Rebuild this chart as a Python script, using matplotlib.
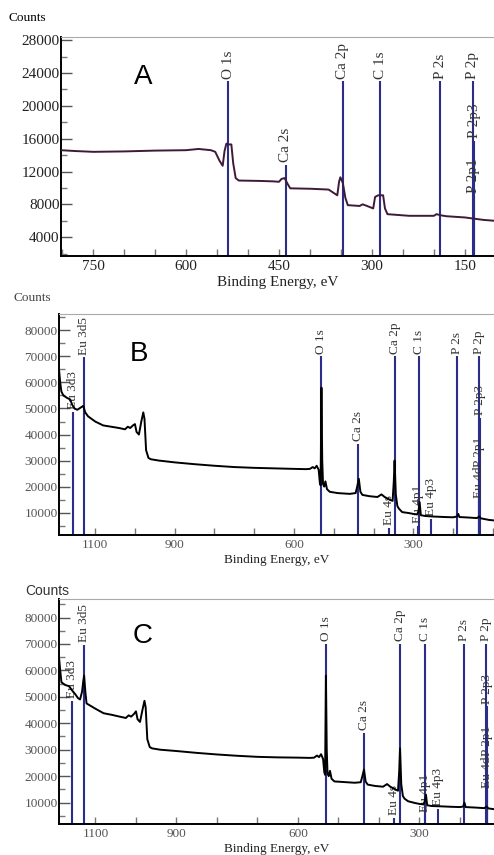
#XPS survey spectra, three samples
import numpy as np
import matplotlib
matplotlib.use("Agg")
import matplotlib.pyplot as plt
from matplotlib.ticker import MultipleLocator

# panel A spectrum (binding energy eV, counts)
ev_a = [802, 780, 750, 700, 650, 600, 580, 560, 553, 546, 541, 538, 535, 530, 527,
        524, 520, 515, 480, 460, 450, 446, 441, 437, 432, 400, 370, 360, 356,
        353, 351, 347, 343, 339, 320, 315, 308, 298, 295, 290, 282, 279, 275,
        240, 200, 196, 188, 180, 150, 135, 120, 103]
counts_a = [14600, 14500, 14400, 14450, 14550, 14600, 14750, 14600, 14400, 13300, 12700,
            14500, 15400, 15300, 15300, 13000, 11200, 10900, 10850, 10800, 10750, 11100,
            11200, 10600, 9950, 9900, 9800, 9300, 9100, 10800, 11300, 10600, 8800,
            7900, 7800, 8000, 7800, 7500, 8900, 9100, 9100, 7500, 6800, 6600, 6600,
            6800, 6650, 6550, 6400, 6250, 6100, 6000]

# panel B spectrum
ev_b = [1191, 1188, 1185, 1180, 1170, 1163, 1158, 1152, 1145, 1135, 1130, 1125, 1118,
        1100, 1080, 1060, 1040, 1025, 1018, 1012, 1005, 1000, 996, 990, 984, 979,
        976, 972, 966, 960, 940, 900, 850, 800, 750, 700, 650, 600, 570, 560,
        553, 548, 543, 538, 535, 533, 531, 529, 527, 524, 521, 517, 510, 490,
        460, 445, 441, 437, 433, 428, 410, 390, 380, 372, 360, 352, 349, 347,
        344, 340, 336, 328, 310, 300, 290, 287, 284, 281, 270, 250, 220, 200,
        190, 187, 184, 160, 140, 134, 130, 110, 97]
counts_b = [65000, 60000, 56500, 55000, 54000, 53500, 51500, 50000, 49500, 50500, 51000,
            48500, 47000, 45000, 43500, 43000, 42500, 42000, 43000, 42500, 43500, 44000,
            41000, 40000, 45000, 48500, 46000, 34000, 31000, 30500, 30000, 29300, 28600,
            28000, 27500, 27200, 27000, 26800, 26700, 26800, 27500, 27000, 28000, 26500,
            21500, 20500, 58000, 30000, 21000, 20000, 22000, 19000, 18000, 17500, 17200,
            17500, 20000, 23000, 18000, 16800, 16300, 16000, 17000, 16000, 15000, 14500,
            22000, 30000, 17000, 12500, 11500, 10200, 9800, 9500, 9300, 10500, 14000,
            9000, 8700, 8500, 8300, 8200, 8500, 9500, 8300, 8100, 7900, 8500, 7800,
            7200, 7000]

# panel C spectrum
ev_c = [1190, 1187, 1184, 1175, 1165, 1158, 1150, 1143, 1138, 1133, 1130, 1128, 1125,
        1122, 1100, 1080, 1060, 1040, 1025, 1018, 1012, 1005, 1000, 996, 990, 984,
        979, 976, 972, 966, 960, 940, 900, 850, 800, 750, 700, 650, 600, 570,
        560, 553, 548, 543, 538, 535, 533, 531, 529, 527, 524, 521, 517, 510,
        490, 460, 445, 441, 437, 433, 428, 410, 390, 380, 372, 360, 353, 350,
        348, 345, 341, 337, 328, 310, 300, 290, 287, 284, 281, 270, 250, 220,
        200, 192, 189, 186, 160, 140, 134, 130, 116]
counts_c = [65000, 60000, 55500, 54500, 54000, 52500, 51000, 49500, 49000, 52000, 56000,
            58000, 52000, 47500, 45500, 43800, 43200, 42500, 42000, 43000, 42500, 43500,
            44500, 41500, 40500, 45000, 48500, 46000, 34000, 31000, 30500, 30000, 29500,
            28800, 28200, 27700, 27300, 27100, 27000, 26900, 27000, 27800, 27200, 28300,
            26500, 21500, 20500, 58000, 30000, 21000, 20000, 22000, 19000, 18000, 17800,
            17500, 17700, 20000, 22500, 18000, 16800, 16300, 16000, 17000, 16000, 15000,
            14500, 22000, 30500, 17000, 12500, 11500, 10500, 9800, 9500, 9300, 10500,
            13000, 9000, 8700, 8600, 8400, 8300, 8500, 10000, 8300, 8100, 7900, 8500,
            7800, 7500]

# peak markers
names_a = ["O 1s", "Ca 2s", "Ca 2p", "C 1s", "P 2s", "P 2p", "P 2p3", "P 2p1"]
pos_a = [532, 439, 347, 287, 190, 137, 135, 136]
top_a = [23000, 12800, 23000, 23000, 23000, 23000, 15700, 9000]

names_bc = ["Eu 3d3", "Eu 3d5", "O 1s", "Ca 2s", "Eu 4s", "Ca 2p", "Eu 4p1", "C 1s",
            "Eu 4p3", "P 2s", "P 2p", "P 2p3", "P 2p1", "Eu 4d"]
pos_bc = [1157, 1128, 531, 438, 362, 347, 287, 286, 255, 190, 135, 133, 134, 134]
top_b = [48800, 69600, 70000, 36400, 4000, 70000, 4900, 70000, 7500, 70000, 70000,
         46400, 26500, 14500]
top_c = [48600, 69700, 70000, 36300, 4100, 70000, 5400, 70000, 7500, 70000, 70000,
         46400, 26500, 14500]

xticks_a = [750, 600, 450, 300, 150]
yticks_a = [4000, 8000, 12000, 16000, 20000, 24000, 28000]
xticks_bc = [1100, 900, 600, 300]
yticks_bc = [10000, 20000, 30000, 40000, 50000, 60000, 70000, 80000]

W, H = 494, 855
fig = plt.figure(figsize=(W / 100, H / 100), dpi=100)

serif = "Liberation Serif"
sans = "Liberation Sans"
peak_color = "#2b2d8a"


def panel(box, ev, counts, curve_color, names, pos, tops, xlim, ylim,
          xticks, xminor, yticks, yminor, letter, letter_xy, fs, tick_color):
    l, t, r, b = box
    ax = fig.add_axes([l / W, 1 - b / H, (r - l) / W, (b - t) / H])
    ax.vlines(pos, ylim[0], tops, color=peak_color, lw=1.5, zorder=1)
    for n, p, h in zip(names, pos, tops):
        ax.annotate(n, (p, h), xytext=(0, 2), textcoords="offset points",
                    rotation=90, ha="center", va="bottom", fontsize=fs,
                    family=serif, color="#333333", zorder=2)
    ax.plot(ev, counts, color=curve_color, lw=1.4, zorder=3)
    ax.set_xlim(xlim)
    ax.set_ylim(ylim)
    ax.set_xticks(xticks, [str(v) for v in xticks])
    ax.set_yticks(yticks, [str(v) for v in yticks])
    ax.xaxis.set_minor_locator(MultipleLocator(xminor))
    ax.yaxis.set_minor_locator(MultipleLocator(yminor))
    for lab in ax.get_xticklabels() + ax.get_yticklabels():
        lab.set_family(serif)
        lab.set_fontsize(fs)
        lab.set_color(tick_color)
    ax.tick_params(axis="y", which="major", direction="in", length=8, width=1,
                   color="#555555", pad=1)
    ax.tick_params(axis="y", which="minor", direction="in", length=4, width=1,
                   color="#777777")
    ax.tick_params(axis="x", which="both", direction="in", length=5, width=1,
                   color="#777777", pad=3)
    ax.spines["right"].set_visible(False)
    ax.spines["top"].set_color("#aaaaaa")
    ax.spines["left"].set_linewidth(1.4)
    ax.spines["bottom"].set_linewidth(1.4)
    ax.set_xlabel("Binding Energy, eV", family=serif, fontsize=fs, color="#222222",
                  labelpad=2)
    fig.text(letter_xy[0] / W, 1 - letter_xy[1] / H, letter, family=sans,
             fontsize=20, ha="center", va="center")
    return ax


panel((61, 37, 494, 256), ev_a, counts_a, "#3f1a38", names_a, pos_a, top_a,
      (802, 103), (1700, 28400), xticks_a, 50, yticks_a, 2000, "A", (143, 77),
      11, "#222222")
panel((59, 314, 494, 535), ev_b, counts_b, "black", names_bc, pos_bc, top_b,
      (1191, 97), (1400, 86300), xticks_bc, 100, yticks_bc, 5000, "B", (139, 354),
      9.5, "#555555")
panel((59, 599, 494, 824), ev_c, counts_c, "black", names_bc, pos_bc, top_c,
      (1190, 116), (1900, 87000), xticks_bc, 100, yticks_bc, 5000, "C", (143, 636),
      9.5, "#555555")

fig.text(8 / W, 1 - 18 / H, "Counts", family=serif, fontsize=9.5, va="center")
fig.text(13 / W, 1 - 298 / H, "Counts", family=serif, fontsize=9.5, va="center",
         color="#444444")
fig.text(25 / W, 1 - 591 / H, "Counts", family=sans, fontsize=10, va="center",
         color="#333333")

fig.savefig("out.png", dpi=100)
